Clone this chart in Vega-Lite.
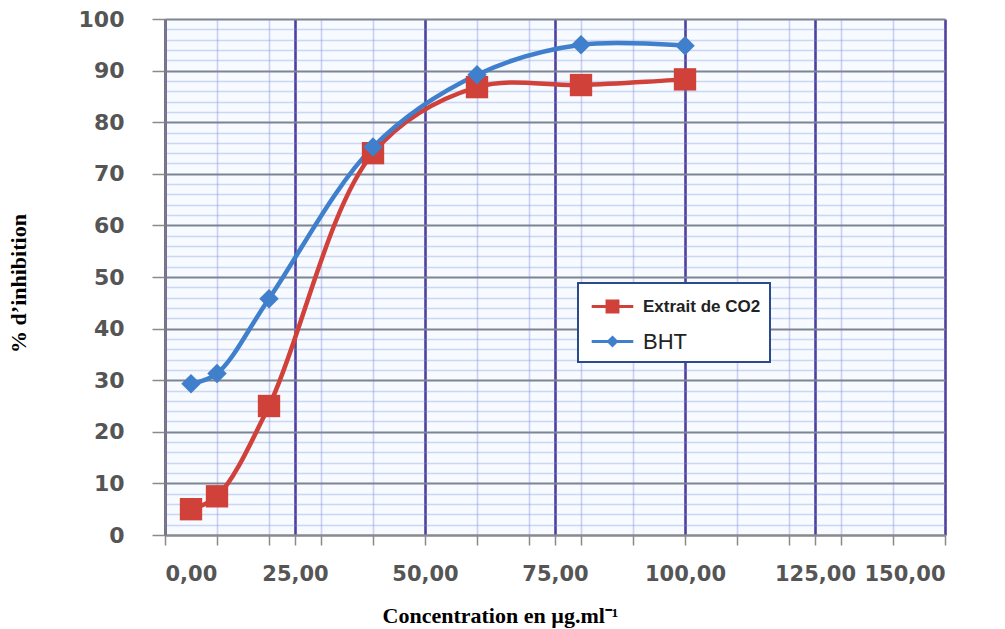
{
  "$schema": "https://vega.github.io/schema/vega-lite/v6.json",
  "width": 780,
  "height": 516,
  "autosize": "none",
  "padding": {"left": 165, "top": 19, "right": 60, "bottom": 94},
  "background": "white",
  "config": {"view": {"fill": "#f7faff", "stroke": null}},
  "data": {
    "values": [
      {"serie": "Extrait de CO2", "conc": 5, "inhib": 5},
      {"serie": "Extrait de CO2", "conc": 10, "inhib": 7.5},
      {"serie": "Extrait de CO2", "conc": 20, "inhib": 25},
      {"serie": "Extrait de CO2", "conc": 40, "inhib": 74},
      {"serie": "Extrait de CO2", "conc": 60, "inhib": 86.8},
      {"serie": "Extrait de CO2", "conc": 80, "inhib": 87.2},
      {"serie": "Extrait de CO2", "conc": 100, "inhib": 88.3},
      {"serie": "BHT", "conc": 5, "inhib": 29.3},
      {"serie": "BHT", "conc": 10, "inhib": 31.3},
      {"serie": "BHT", "conc": 20, "inhib": 45.8},
      {"serie": "BHT", "conc": 40, "inhib": 75.2},
      {"serie": "BHT", "conc": 60, "inhib": 89.2},
      {"serie": "BHT", "conc": 80, "inhib": 95},
      {"serie": "BHT", "conc": 100, "inhib": 94.8}
    ]
  },
  "encoding": {
    "x": {
      "field": "conc",
      "type": "quantitative",
      "scale": {"domain": [0, 150], "nice": false, "zero": false},
      "axis": {
        "values": [0, 10, 20, 25, 30, 40, 50, 60, 70, 75, 80, 90, 100, 110, 120, 125, 130, 140, 150],
        "labelExpr": "datum.value % 25 === 0 ? replace(format(datum.value, '.2f'), '.', ',') : ''",
        "labelOverlap": false,
        "labelFont": "DejaVu Sans",
        "labelFontWeight": "bold",
        "labelFontSize": 21,
        "labelColor": "#555555",
        "labelPadding": 18,
        "tickSize": 10,
        "tickColor": "#8a8a8a",
        "tickWidth": 1.5,
        "domainColor": "#8a8a8a",
        "domainWidth": 2,
        "grid": true,
        "gridColor": {"condition": {"test": "datum.value % 25 === 0", "value": "#4f3fa0"}, "value": "#c9d1f2"},
        "gridWidth": {"condition": {"test": "datum.value % 25 === 0", "value": 2.6}, "value": 1.6},
        "title": "Concentration en µg.ml⁻¹",
        "titleFont": "Liberation Serif",
        "titleFontWeight": "bold",
        "titleFontSize": 22,
        "titleColor": "#000000",
        "titleX": 335,
        "titleY": 80,
        "titleBaseline": "middle"
      }
    },
    "y": {
      "field": "inhib",
      "type": "quantitative",
      "scale": {"domain": [0, 100], "nice": false},
      "axis": {
        "values": [0, 2, 4, 6, 8, 10, 12, 14, 16, 18, 20, 22, 24, 26, 28, 30, 32, 34, 36, 38, 40, 42, 44, 46, 48, 50, 52, 54, 56, 58, 60, 62, 64, 66, 68, 70, 72, 74, 76, 78, 80, 82, 84, 86, 88, 90, 92, 94, 96, 98, 100],
        "labelExpr": "datum.value % 10 === 0 ? datum.value : ''",
        "labelOverlap": false,
        "labelFont": "DejaVu Sans",
        "labelFontWeight": "bold",
        "labelFontSize": 22,
        "labelColor": "#555555",
        "labelPadding": 28,
        "tickSize": 13,
        "tickColor": {"condition": {"test": "datum.value % 10 === 0", "value": "#8a8a8a"}, "value": "transparent"},
        "tickWidth": 1.5,
        "domainColor": "#7a7a7a",
        "domainWidth": 2,
        "grid": true,
        "gridColor": {"condition": {"test": "datum.value % 10 === 0", "value": "#7d8494"}, "value": "rgba(120,150,220,0.35)"},
        "gridWidth": {"condition": {"test": "datum.value % 10 === 0", "value": 2}, "value": 1.4},
        "title": "% d’inhibition",
        "titleFont": "Liberation Serif",
        "titleFontWeight": "bold",
        "titleFontSize": 22,
        "titleColor": "#000000",
        "titleX": -147,
        "titleY": 264,
        "titleAlign": "center",
        "titleBaseline": "middle"
      }
    }
  },
  "layer": [
    {
      "mark": {"type": "line", "interpolate": "catmull-rom", "strokeWidth": 4.5},
      "encoding": {
        "color": {
          "field": "serie",
          "type": "nominal",
          "scale": {"domain": ["Extrait de CO2", "BHT"], "range": ["#d0413a", "#3f7fcb"]},
          "legend": {
            "orient": "none",
            "legendX": 413,
            "legendY": 264,
            "title": null,
            "fillColor": "white",
            "strokeColor": "#2b4a8c",
            "padding": 9,
            "rowPadding": 9,
            "symbolType": "M-1.6,0H1.6M-0.42,-0.42H0.42V0.42H-0.42Z",
            "symbolSize": 676,
            "symbolOffset": 11,
            "symbolStrokeWidth": 3,
            "labelFont": "Liberation Sans",
            "labelFontSize": 18,
            "labelFontWeight": "bold",
            "labelColor": "#222222",
            "labelOffset": 16,
            "encode": {
              "legend": {"update": {"strokeWidth": {"value": 2}}},
              "symbols": {
                "update": {
                  "shape": {"signal": "datum.value === 'BHT' ? 'M-1.6,0H1.6M0,-0.3L0.3,0L0,0.3L-0.3,0Z' : 'M-1.6,0H1.6M-0.42,-0.42H0.42V0.42H-0.42Z'"},
                  "fill": {"signal": "datum.value === 'BHT' ? '#3f7fcb' : '#d0413a'"},
                  "opacity": {"value": 1}
                }
              },
              "labels": {
                "update": {
                  "fontSize": {"signal": "datum.value === 'BHT' ? 22 : 17"},
                  "fontWeight": {"signal": "datum.value === 'BHT' ? 'normal' : 'bold'"}
                }
              }
            }
          }
        }
      }
    },
    {
      "mark": {"type": "point", "filled": true, "opacity": 1},
      "encoding": {
        "color": {"field": "serie", "type": "nominal"},
        "shape": {"condition": {"test": "datum.serie === 'BHT'", "value": "diamond"}, "value": "square"},
        "size": {"condition": {"test": "datum.serie === 'BHT'", "value": 380}, "value": 500}
      }
    }
  ]
}
